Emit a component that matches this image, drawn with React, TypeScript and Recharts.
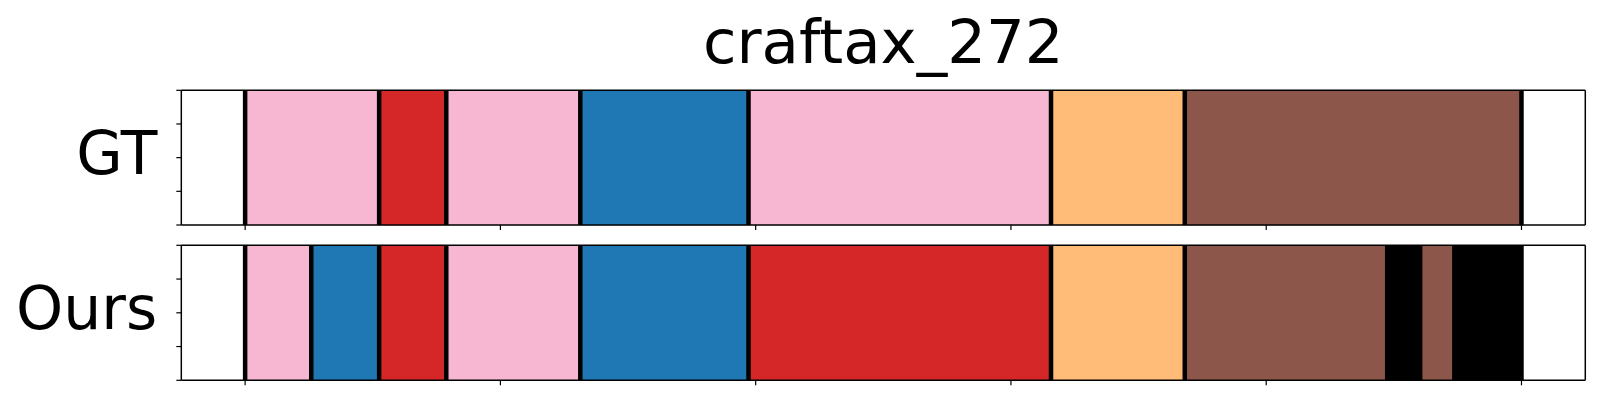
import { Bar, BarChart, LineChart, ReferenceLine, XAxis, YAxis } from 'recharts'

const title = 'craftax_272'

// x axis (unlabelled ticks), y fraction ticks
const xTicks = [0, 100, 200, 300, 400, 500]
const xDomain = [-25, 525]
const fracTicks = [0, 0.25, 0.5, 0.75, 1]

const PINK = '#f7b6d2'
const RED = '#d62728'
const BLUE = '#1f77b4'
const ORANGE = '#ffbb78'
const BROWN = '#8c564b'
const BLACK = '#000000'

// segment lengths for each row, left to right
const gtSegments = [52.5, 26.3, 52.5, 65.9, 118.5, 52.4, 131.9]
const gtColors = [PINK, RED, PINK, BLUE, PINK, ORANGE, BROWN]

const oursSegments = [25.9, 26.6, 26.3, 52.5, 65.9, 118.5, 52.4, 79.3, 12.9, 13.4, 26.3]
const oursColors = [PINK, BLUE, RED, PINK, BLUE, RED, ORANGE, BROWN, BLACK, BROWN, BLACK]

const FONT = '"DejaVu Sans", sans-serif'
const THIN = 0.01 // axes must have a size > 0 to be drawn
const spine = { stroke: '#000', strokeWidth: 1.5 }
const tickStyle = { stroke: '#000', strokeWidth: 1.2 }

function RowLabel(props: any) {
    const { x, y, payload } = props
    return (
        <text x={x} y={y} dy={16} textAnchor="end" fontSize={60} fontFamily={FONT} fill="#000">
            {payload.value}
        </text>
    )
}

function SegmentRow({ name, segments, colors, top, height, margin }: any) {
    const row: Record<string, any> = { name }
    segments.forEach((v: number, i: number) => {
        row['s' + i] = v
    })
    const bounds: number[] = [0]
    segments.forEach((v: number) => bounds.push(bounds[bounds.length - 1] + v))

    return (
        <div style={{ position: 'absolute', left: 0, top, width: 1600, height }}>
            <BarChart
                width={1600}
                height={height}
                data={[row]}
                layout="vertical"
                barCategoryGap={0}
                barGap={0}
                margin={margin}
            >
                <XAxis
                    type="number"
                    domain={xDomain}
                    ticks={xTicks}
                    interval={0}
                    allowDataOverflow
                    height={THIN}
                    tickSize={5}
                    tickFormatter={() => ''}
                    tickLine={tickStyle}
                    axisLine={spine}
                />
                <XAxis
                    xAxisId="top"
                    orientation="top"
                    type="number"
                    domain={xDomain}
                    allowDataOverflow
                    height={THIN}
                    tick={false}
                    tickLine={false}
                    axisLine={spine}
                />
                <YAxis
                    type="category"
                    dataKey="name"
                    width={THIN}
                    tickLine={false}
                    axisLine={false}
                    tickSize={0}
                    tickMargin={24}
                    tick={<RowLabel />}
                />
                {segments.map((_: number, i: number) => (
                    <Bar
                        key={i}
                        dataKey={'s' + i}
                        stackId="seg"
                        fill={colors[i]}
                        isAnimationActive={false}
                    />
                ))}
                {bounds.map((b, i) => (
                    <ReferenceLine key={'b' + i} x={b} stroke="#000" strokeWidth={4.5} />
                ))}
            </BarChart>
            {/* overlay for the left/right spines and the fraction ticks */}
            <div style={{ position: 'absolute', left: 0, top: 0, pointerEvents: 'none' }}>
                <LineChart width={1600} height={height} data={[row]} margin={margin}>
                    <XAxis dataKey="name" hide />
                    <YAxis
                        type="number"
                        domain={[0, 1]}
                        ticks={fracTicks}
                        interval={0}
                        allowDataOverflow
                        width={THIN}
                        tickSize={5}
                        tickFormatter={() => ''}
                        tickLine={tickStyle}
                        axisLine={spine}
                    />
                    <YAxis
                        yAxisId="r"
                        orientation="right"
                        type="number"
                        domain={[0, 1]}
                        allowDataOverflow
                        width={THIN}
                        tick={false}
                        tickLine={false}
                        axisLine={spine}
                    />
                </LineChart>
            </div>
        </div>
    )
}

export default function App() {
    return (
        <div
            style={{
                position: 'absolute',
                left: 0,
                top: 0,
                width: 1600,
                height: 400,
                background: '#fff',
                fontFamily: FONT,
            }}
        >
            <div
                style={{
                    position: 'absolute',
                    left: 181.3,
                    width: 1404,
                    top: 10,
                    fontSize: 61,
                    lineHeight: '63px',
                    textAlign: 'center',
                    color: '#000',
                }}
            >
                {title}
            </div>
            <SegmentRow
                name="GT"
                segments={gtSegments}
                colors={gtColors}
                top={0}
                height={240}
                margin={{ top: 90.3, right: 14.7, bottom: 15, left: 181.3 }}
            />
            <SegmentRow
                name="Ours"
                segments={oursSegments}
                colors={oursColors}
                top={240}
                height={160}
                margin={{ top: 5.3, right: 14.7, bottom: 19.7, left: 181.3 }}
            />
        </div>
    )
}
